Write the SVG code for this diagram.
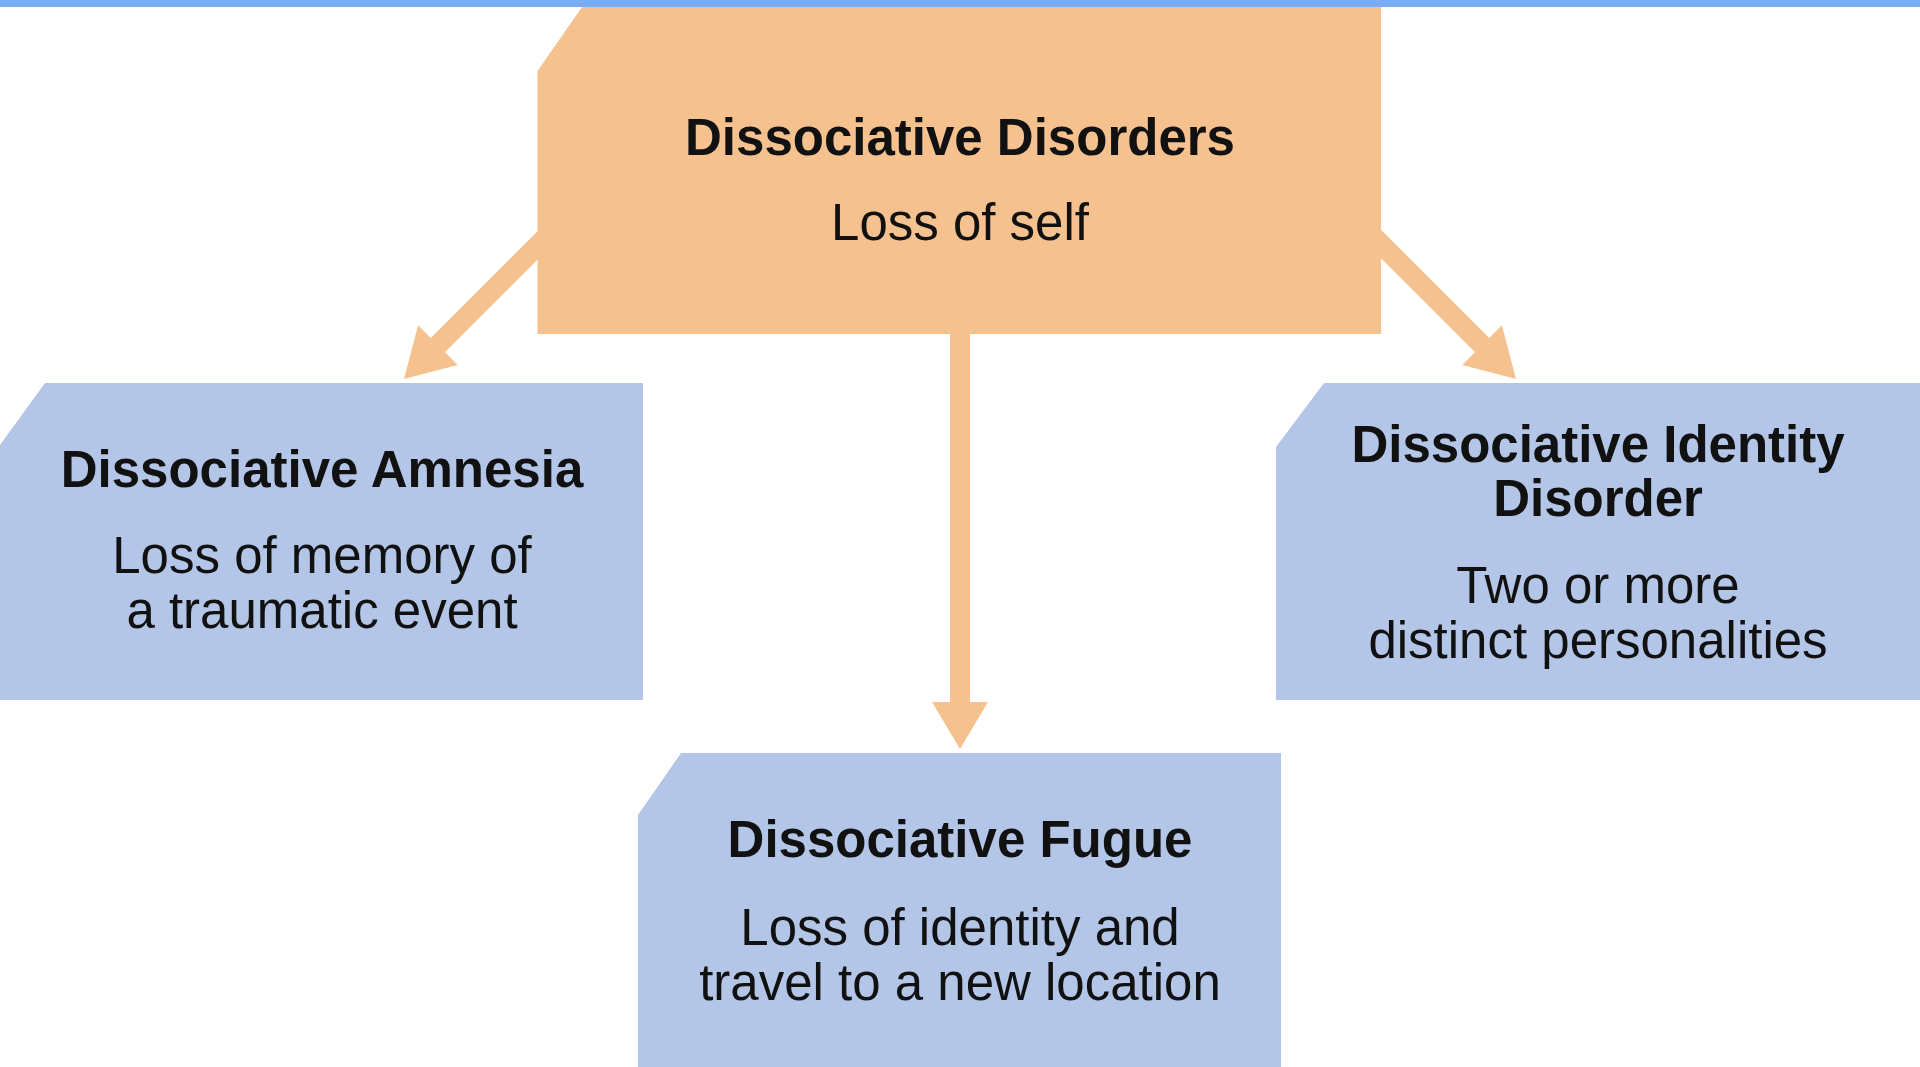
<svg xmlns="http://www.w3.org/2000/svg" width="1920" height="1067" viewBox="0 0 1920 1067">
<style>
.bar{fill:#78adf5}
.top{fill:#f5c18f}
.sub{fill:#b3c6e7}
.arrow{fill:#f5c18f}
.t{font-family:"Liberation Sans",Arial,sans-serif;fill:#111;text-anchor:middle}
.b{font-weight:bold;font-size:51px}
.r{font-size:51px}
</style>
<rect class="bar" x="0" y="0" width="1920" height="7"/>
<g id="connectors">
<polygon class="arrow" points="950,330 970,330 970,702 988,702 960,749 932,702 950,702"/>
<polygon class="arrow" points="572.9,195.9 587.1,210.1 445,352.2 457.7,364.9 404,379 418.1,325.3 430.8,338"/>
<polygon class="arrow" points="1347.1,195.9 1332.9,210.1 1475,352.2 1462.3,364.9 1516,379 1501.9,325.3 1489.2,338"/>
</g>
<g id="node-disorders">
<polygon class="top" points="582,7 1381,7 1381,334 537.5,334 537.5,71"/>
<text class="t b" x="960" y="155">Dissociative Disorders</text>
<text class="t r" x="960" y="240">Loss of self</text>
</g>
<g id="node-amnesia">
<polygon class="sub" points="45,383 643,383 643,700 0,700 0,445"/>
<text class="t b" x="322" y="487">Dissociative Amnesia</text>
<text class="t r" x="322" y="573">Loss of memory of</text>
<text class="t r" x="322" y="628">a traumatic event</text>
</g>
<g id="node-identity">
<polygon class="sub" points="1324,383 1920,383 1920,700 1276,700 1276,447"/>
<text class="t b" x="1598" y="462">Dissociative Identity</text>
<text class="t b" x="1598" y="516">Disorder</text>
<text class="t r" x="1598" y="603">Two or more</text>
<text class="t r" x="1598" y="658">distinct personalities</text>
</g>
<g id="node-fugue">
<polygon class="sub" points="681,753 1281,753 1281,1067 638,1067 638,815"/>
<text class="t b" x="960" y="857">Dissociative Fugue</text>
<text class="t r" x="960" y="945">Loss of identity and</text>
<text class="t r" x="960" y="1000">travel to a new location</text>
</g>
</svg>
